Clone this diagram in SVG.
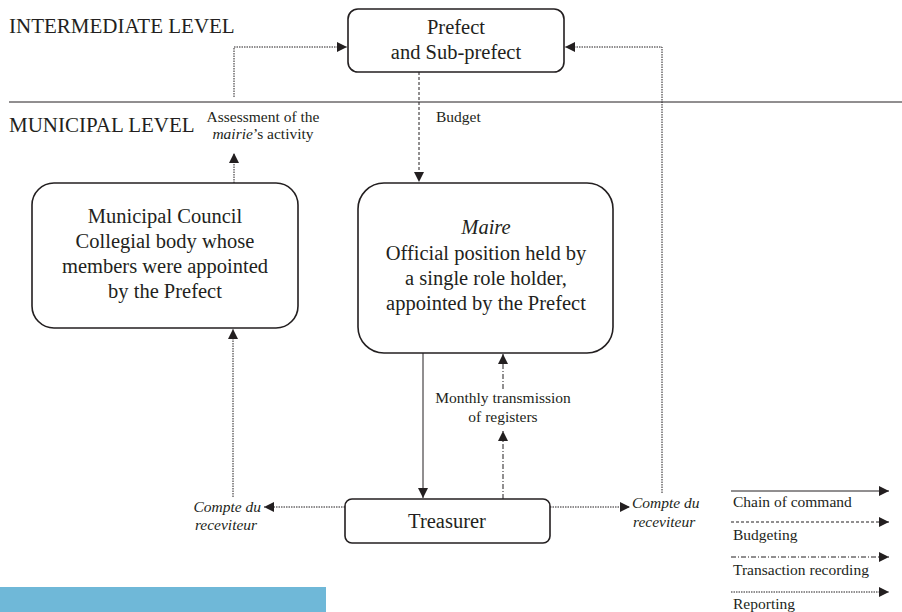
<svg xmlns="http://www.w3.org/2000/svg" width="902" height="612" viewBox="0 0 902 612">
<defs>
<marker id="ah" viewBox="0 0 10 10" refX="10" refY="5" markerWidth="10" markerHeight="10" markerUnits="userSpaceOnUse" orient="auto">
<path d="M0,0 L10,5 L0,10 z" fill="#231f20"/>
</marker>
</defs>
<style>
.t{font-family:"Liberation Serif","Times New Roman",serif;fill:#231f20}
.lvl{font-size:21px}
.node{font-size:20.5px;text-anchor:middle}
.lab{font-size:15.5px}
.box{fill:#fff;stroke:#231f20;stroke-width:1.6}
.c{fill:none;stroke:#231f20;stroke-width:1}
.cmd{}
.bud{stroke-dasharray:3 2}
.rep{stroke-dasharray:1.5 1}
.tra{stroke-dasharray:5 2 1 2}
</style>
<rect width="902" height="612" fill="#fff"/>
<text class="t lvl" x="9" y="33">INTERMEDIATE LEVEL</text>
<text class="t lvl" x="9" y="132">MUNICIPAL LEVEL</text>
<line x1="9" y1="102" x2="902" y2="102" stroke="#231f20" stroke-width="1"/>
<g id="connectors">
<path class="c rep" d="M234,183 V153" marker-end="url(#ah)"/>
<path class="c rep" d="M234,97 V47 H347" marker-end="url(#ah)"/>
<path class="c bud" d="M419,72 V182" marker-end="url(#ah)"/>
<path class="c rep" d="M662,493 V47 H565" marker-end="url(#ah)"/>
<path class="c cmd" d="M423,353 V498" marker-end="url(#ah)"/>
<path class="c tra" d="M503,499 V431" marker-end="url(#ah)"/>
<path class="c tra" d="M503,389 V354" marker-end="url(#ah)"/>
<path class="c rep" d="M345,507 H264" marker-end="url(#ah)"/>
<path class="c rep" d="M233,497 V329" marker-end="url(#ah)"/>
<path class="c rep" d="M550,507 H630" marker-end="url(#ah)"/>
</g>
<g id="prefect">
<rect class="box" x="348" y="9" width="216" height="63" rx="10"/>
<text class="t node" x="456" y="34">Prefect</text>
<text class="t node" x="456" y="59">and Sub-prefect</text>
</g>
<g id="council">
<rect class="box" x="32" y="183" width="266" height="145" rx="22"/>
<text class="t node" x="165" y="223">Municipal Council</text>
<text class="t node" x="165" y="248">Collegial body whose</text>
<text class="t node" x="165" y="273">members were appointed</text>
<text class="t node" x="165" y="298">by the Prefect</text>
</g>
<g id="maire">
<rect class="box" x="358" y="183" width="255" height="170" rx="26"/>
<text class="t node" x="486" y="234" font-style="italic">Maire</text>
<text class="t node" x="486" y="260">Official position held by</text>
<text class="t node" x="486" y="285">a single role holder,</text>
<text class="t node" x="486" y="310">appointed by the Prefect</text>
</g>
<g id="treasurer">
<rect class="box" x="345" y="499" width="205" height="44" rx="7"/>
<text class="t node" x="447" y="528">Treasurer</text>
</g>
<g id="labels">
<text class="t lab" x="263" y="122" text-anchor="middle">Assessment of the</text>
<text class="t lab" x="263" y="139" text-anchor="middle"><tspan font-style="italic">mairie</tspan>’s activity</text>
<text class="t lab" x="436" y="122">Budget</text>
<text class="t lab" x="503" y="403" text-anchor="middle">Monthly transmission</text>
<text class="t lab" x="503" y="422" text-anchor="middle">of registers</text>
<text class="t lab" x="261" y="512" text-anchor="end" font-style="italic">Compte du</text>
<text class="t lab" x="226" y="530" text-anchor="middle" font-style="italic">receviteur</text>
<text class="t lab" x="632" y="508" font-style="italic">Compte du</text>
<text class="t lab" x="633" y="527" font-style="italic">receviteur</text>
</g>
<g id="legend">
<path class="c cmd" d="M731,491 H889" marker-end="url(#ah)"/>
<text class="t lab" x="733" y="507">Chain of command</text>
<path class="c bud" d="M731,522 H889" marker-end="url(#ah)"/>
<text class="t lab" x="733" y="540">Budgeting</text>
<path class="c tra" d="M731,557 H889" marker-end="url(#ah)"/>
<text class="t lab" x="733" y="575">Transaction recording</text>
<path class="c rep" d="M731,592 H889" marker-end="url(#ah)"/>
<text class="t lab" x="733" y="609">Reporting</text>
</g>
<rect x="0" y="587" width="326" height="25" fill="#6fb8d8"/>
</svg>
